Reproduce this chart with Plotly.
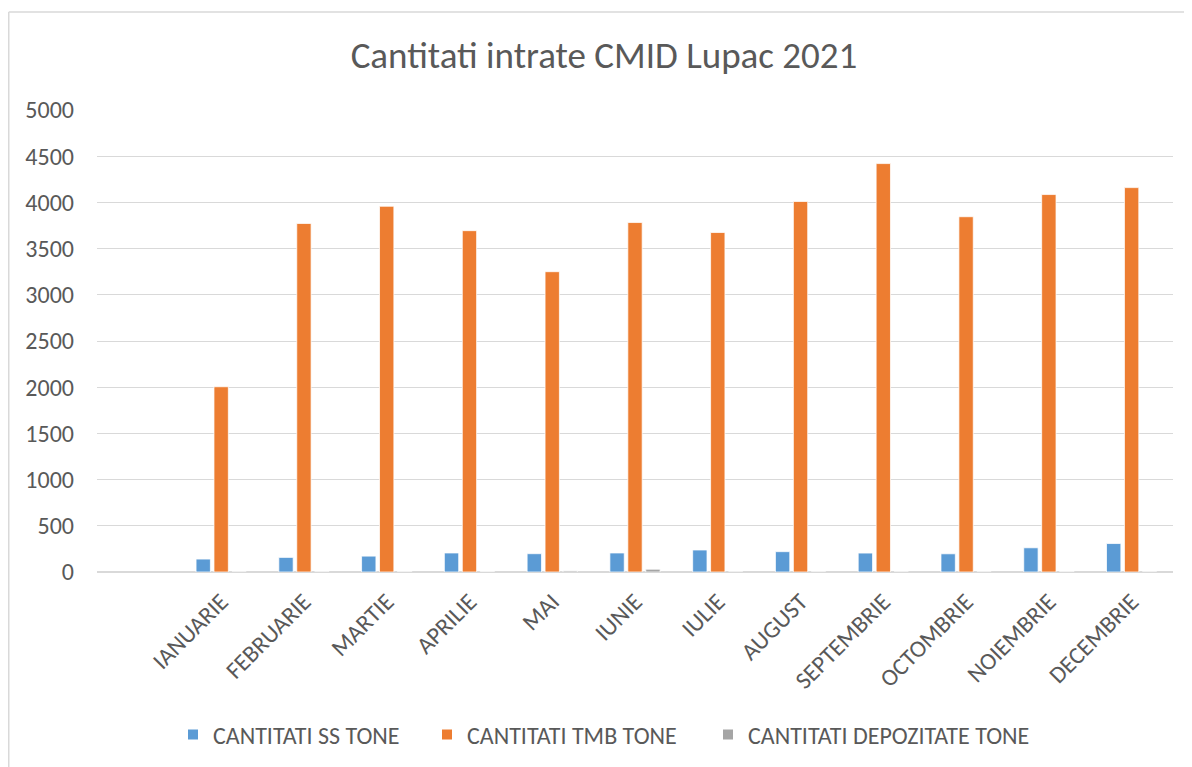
import plotly.graph_objects as go

months = ["IANUARIE", "FEBRUARIE", "MARTIE", "APRILIE", "MAI", "IUNIE",
          "IULIE", "AUGUST", "SEPTEMBRIE", "OCTOMBRIE", "NOIEMBRIE", "DECEMBRIE"]
ss_tone = [140, 158, 172, 206, 198, 206, 238, 220, 205, 197, 262, 308]
tmb_tone = [2005, 3772, 3958, 3694, 3250, 3782, 3674, 4010, 4420, 3845, 4085, 4160]
depozitate_tone = [0, 3, 6, 5, 12, 30, 0, 3, 0, 0, 6, 3]

series_names = ["CANTITATI SS TONE", "CANTITATI TMB TONE", "CANTITATI DEPOZITATE TONE"]
colors = ["#5B9BD5", "#ED7D31", "#A5A5A5"]
y_ticks = [0, 500, 1000, 1500, 2000, 2500, 3000, 3500, 4000, 4500, 5000]
title_text = "Cantitati intrate CMID Lupac 2021"

FONT = "Carlito, Calibri, Lato, sans-serif"
TXT = "#595959"
W, H = 1192, 767
# figure coordinates (page has an 8px offset)
L, R, T, B = 89, 1165, 102, 564.5
PW, PH = R - L, B - T
legend_ids = ["legend", "legend2", "legend3"]
legend_left = [179 - 14, 433 - 14, 714 - 14]

fig = go.Figure()
for name, vals, col, lid in zip(series_names, [ss_tone, tmb_tone, depozitate_tone], colors, legend_ids):
    fig.add_trace(go.Bar(
        x=months, y=vals, name=name, legend=lid, showlegend=True,
        marker=dict(color=col, line=dict(color="white", width=0.75)),
    ))

legend_layout = {}
for lid, lx in zip(legend_ids, legend_left):
    legend_layout[lid] = dict(orientation="h", xref="container", yref="container",
                              x=lx / W, xanchor="left", y=1 - 727 / H, yanchor="middle",
                              bgcolor="rgba(0,0,0,0)",
                              font=dict(size=24, color=TXT), itemsizing="constant")

fig.update_layout(
    width=W, height=H, showlegend=True,
    paper_bgcolor="white", plot_bgcolor="white",
    barmode="group", bargap=0.35, bargroupgap=0.2,
    margin=dict(l=L, r=W - R, t=T, b=H - B),
    font=dict(family=FONT, color=TXT, size=24),
    title=dict(text=title_text, x=596/W, xanchor="center", y=1-47/H, yanchor="middle",
               font=dict(family=FONT, size=37, color=TXT)),
    xaxis=dict(range=[-1.5, 11.5], tickangle=-45, showgrid=False, showline=False,
               ticks="", ticklabelstandoff=10, tickfont=dict(size=24, color=TXT)),
    yaxis=dict(range=[0, 5000], tickvals=y_ticks, showgrid=True, gridcolor="#D9D9D9",
               gridwidth=1, zeroline=True, zerolinecolor="#D9D9D9", zerolinewidth=2,
               ticks="", ticklabelstandoff=22, tickfont=dict(size=24, color=TXT)),
    shapes=[
        dict(type="line", xref="paper", yref="paper", x0=(0.75-L)/PW, x1=1.2,
             y0=(B-4)/PH, y1=(B-4)/PH, line=dict(color="#D9D9D9", width=1.5)),
        dict(type="line", xref="paper", yref="paper", x0=(0.75-L)/PW, x1=(0.75-L)/PW,
             y0=(B-4)/PH, y1=-0.5, line=dict(color="#D9D9D9", width=1.5)),
    ],
    **legend_layout,
)

fig.write_html("out.html")
